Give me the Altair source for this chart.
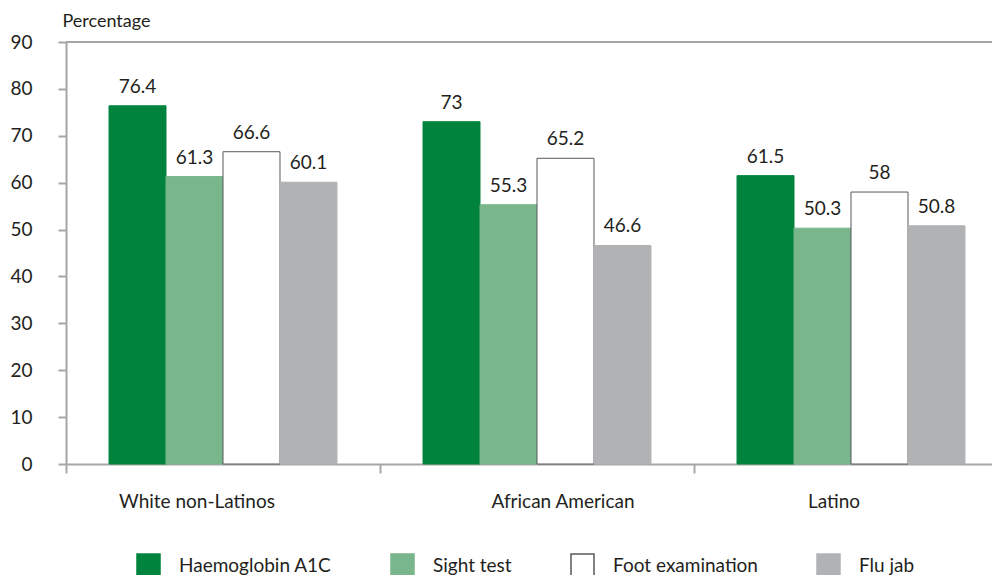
import altair as alt
import pandas as pd

groups = ["White non-Latinos", "African American", "Latino"]
series = ["Haemoglobin A1C", "Sight test", "Foot examination", "Flu jab"]
haemoglobin = [76.4, 73, 61.5]
sight_test = [61.3, 55.3, 50.3]
foot_exam = [66.6, 65.2, 58]
flu_jab = [60.1, 46.6, 50.8]
y_ticks = [0, 10, 20, 30, 40, 50, 60, 70, 80, 90]

fills = ["#00843d", "#79b68b", "#ffffff", "#b1b2b4"]
strokes = ["#00843d", "#79b68b", "#595959", "#b1b2b4"]

rows = []
for s, vals in zip(series, [haemoglobin, sight_test, foot_exam, flu_jab]):
    for g, v in zip(groups, vals):
        rows.append({"group": g, "series": s, "value": v})
df = pd.DataFrame(rows)

FONT = "Lato"
FS = 19
TXT = "#231f20"
AXC = "#a6a6a6"

label_offset_expr = (
    f"datum.value === '{groups[0]}' ? -26 : "
    f"datum.value === '{groups[1]}' ? 26 : -17"
)

x_enc = alt.X(
    "group:N",
    sort=groups,
    title=None,
    scale=alt.Scale(domain=groups, range=[0, 942], paddingInner=0, paddingOuter=0),
    axis=alt.Axis(
        labelAngle=0,
        bandPosition=0,
        domainColor=AXC,
        domainWidth=2,
        tickColor=AXC,
        tickWidth=2,
        tickSize=9,
        labelPadding=19,
        labelBaseline="top",
        labelAlign="center",
        labelOffset=alt.ExprRef(expr=label_offset_expr),
    ),
)
xoff = alt.XOffset(
    "series:N",
    sort=series,
    scale=alt.Scale(domain=series, paddingOuter=0.755, paddingInner=0),
)
y_enc = alt.Y(
    "value:Q",
    scale=alt.Scale(domain=[0, 90], nice=False),
    axis=alt.Axis(
        values=y_ticks,
        grid=False,
        title="Percentage",
        titleAngle=0,
        titleAlign="left",
        titleBaseline="alphabetic",
        titleX=-4,
        titleY=-16,
        titleFontSize=18,
        titleFontWeight="normal",
        domainColor=AXC,
        domainWidth=2,
        tickColor=AXC,
        tickWidth=2,
        tickSize=8,
        labelPadding=26,
    ),
)

legend = alt.Legend(
    title=None,
    orient="none",
    legendX=70,
    legendY=511,
    direction="horizontal",
    symbolType="square",
    symbolSize=529,
    symbolStrokeWidth=1.5,
    labelFontSize=FS,
    labelFont=FONT,
    labelColor=TXT,
    columnPadding=56,
    labelOffset=18,
    padding=0,
)

bars = alt.Chart().mark_bar(strokeWidth=1).encode(
    x=x_enc,
    xOffset=xoff,
    y=y_enc,
    fill=alt.Fill("series:N", sort=series, scale=alt.Scale(domain=series, range=fills), legend=legend),
    stroke=alt.Stroke("series:N", sort=series, scale=alt.Scale(domain=series, range=strokes), legend=legend),
)

text = alt.Chart().mark_text(
    dy=-13, baseline="alphabetic", fontSize=FS, font=FONT, color=TXT
).encode(
    x=x_enc,
    xOffset=xoff,
    y=y_enc,
    text=alt.Text("value:Q"),
)

top_rule = alt.Chart(pd.DataFrame({"top": [max(y_ticks)]})).mark_rule(
    color=AXC, strokeWidth=2
).encode(y=alt.Y("top:Q"))

chart = alt.layer(bars, text, top_rule, data=df).properties(
    width=926,
    height=422,
    autosize=alt.AutoSizeParams(type="none"),
    padding={"left": 58, "top": 34, "right": 0, "bottom": 111},
).configure_view(stroke=None).configure_axis(
    labelFont=FONT,
    labelFontSize=FS,
    labelColor=TXT,
    titleFont=FONT,
    titleFontSize=18,
    titleColor=TXT,
)

chart.save("out.html", embed_options={"renderer": "svg", "actions": False})
